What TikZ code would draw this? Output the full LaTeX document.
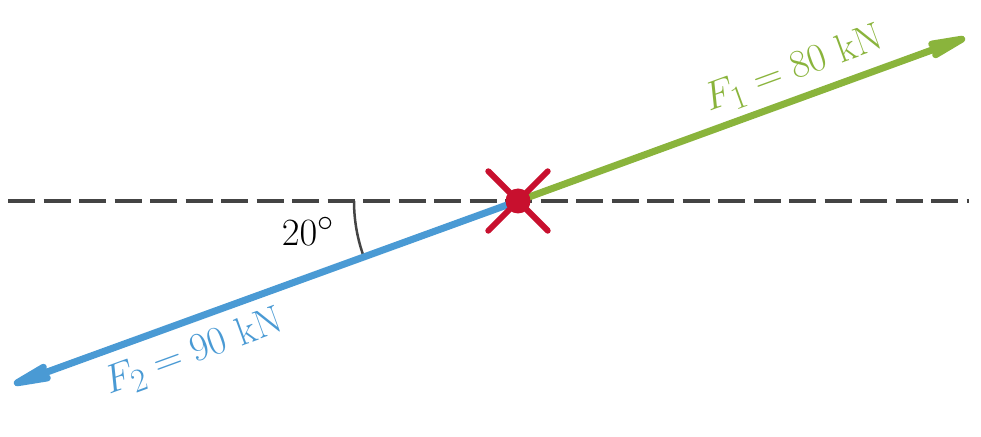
\documentclass[tikz,border=0pt]{standalone}
\usetikzlibrary{arrows.meta}
\definecolor{fgreen}{HTML}{8AB43C}
\definecolor{fblue}{HTML}{4A9AD4}
\definecolor{fred}{HTML}{C8102E}
\definecolor{dgrey}{HTML}{444444}
\tikzset{
  force/.style={line width=7pt, -{Stealth[length=56pt, width=20pt, inset=6pt, round]}},
  refline/.style={dgrey, line width=4pt, dash pattern=on 27pt off 8.5pt},
  crossarm/.style={fred, line width=6pt, line cap=round},
  lbl/.style={font=\Huge, scale=1.6, inner sep=0pt, rotate=20},
}
\begin{document}
\begin{tikzpicture}[x=1pt, y=1pt]
\useasboundingbox (0,0) rectangle (981,436);
\coordinate (O) at (518,235);
\coordinate (A) at (965,398);
\coordinate (B) at (14,52);
\coordinate (L) at (-27.5,235);
\coordinate (R) at (969,235);
\draw[refline] (L) -- (R);
\draw[dgrey, line width=2.5pt] ([shift={(180:164)}]O) arc[start angle=180, end angle=200, radius=164];
\draw[force, fgreen] (O) -- (A);
\draw[force, fblue] (O) -- (B);
\draw[crossarm] ([shift={(135:42)}]O) -- ([shift={(-45:42)}]O);
\draw[crossarm] ([shift={(45:42)}]O) -- ([shift={(-135:42)}]O);
\fill[fred] (O) circle[radius=12.5];
\node[lbl, fgreen] (f1) at (794,366) {$F_1 = 80\ \mathrm{kN}$};
\node[lbl, fblue] (f2) at (194,83) {$F_2 = 90\ \mathrm{kN}$};
\node[font=\Huge, scale=1.55, inner sep=0pt] (ang) at (308,205) {$20^\circ$};
\end{tikzpicture}
\end{document}
